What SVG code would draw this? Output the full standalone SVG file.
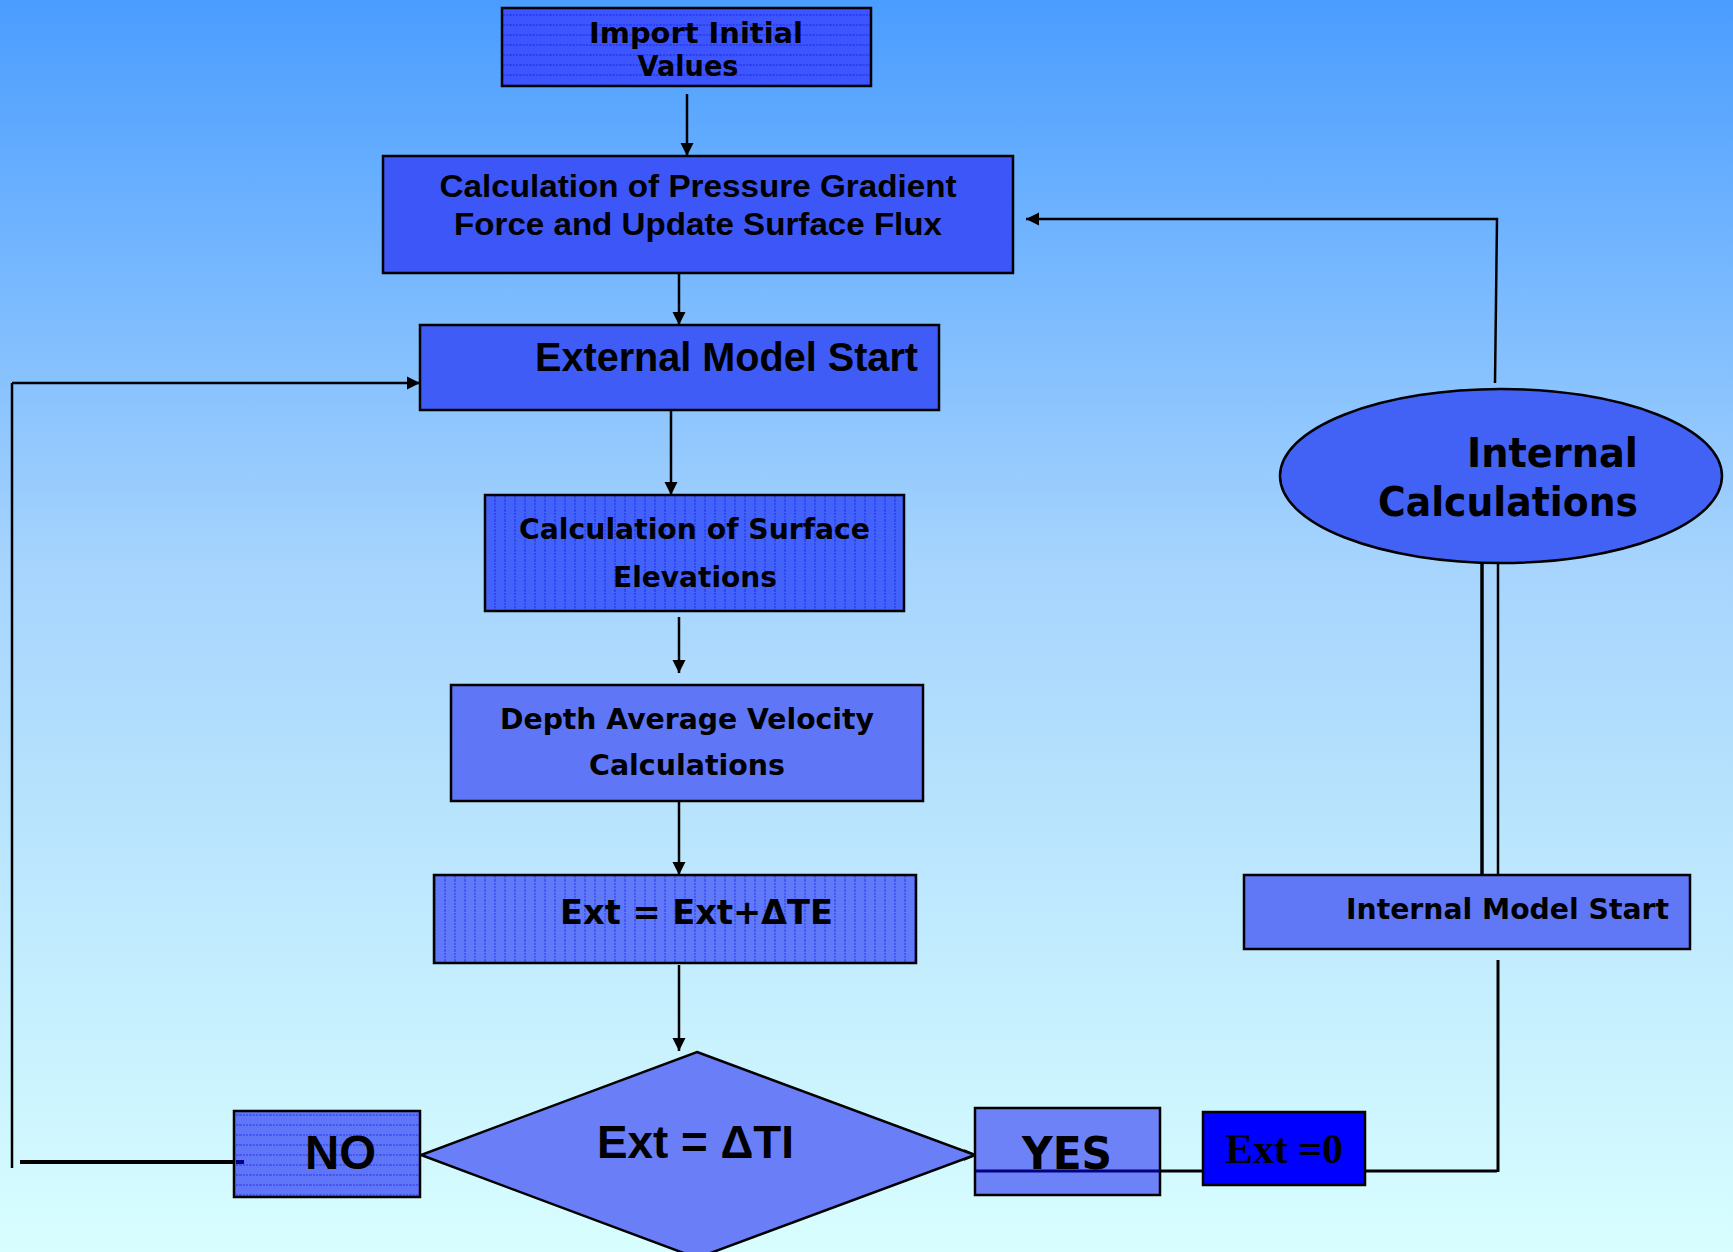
<svg xmlns="http://www.w3.org/2000/svg" width="1733" height="1252" viewBox="0 0 1733 1252">
<defs>
<linearGradient id="bg" x1="0" y1="0" x2="0" y2="1">
<stop offset="0" stop-color="#4a9dff"/>
<stop offset="0.45" stop-color="#a6d4fd"/>
<stop offset="1" stop-color="#d8feff"/>
</linearGradient>
<pattern id="hl" width="10" height="10" patternUnits="userSpaceOnUse">
<rect width="10" height="10" fill="#3d55ff"/>
<line x1="0" y1="5" x2="10" y2="5" stroke="#1f2be8" stroke-width="1" stroke-dasharray="2 1"/>
</pattern>
<pattern id="hl2" width="10" height="10" patternUnits="userSpaceOnUse">
<rect width="10" height="10" fill="#5f76f8"/>
<line x1="0" y1="5" x2="10" y2="5" stroke="#2a35f0" stroke-width="1" stroke-dasharray="2 1"/>
</pattern>
<pattern id="vl" width="10" height="10" patternUnits="userSpaceOnUse">
<rect width="10" height="10" fill="#4262fa"/>
<line x1="5" y1="0" x2="5" y2="10" stroke="#1f2bf0" stroke-width="1" stroke-dasharray="2 1"/>
</pattern>
<pattern id="vl2" width="10" height="10" patternUnits="userSpaceOnUse">
<rect width="10" height="10" fill="#5f79f8"/>
<line x1="5" y1="0" x2="5" y2="10" stroke="#2a35f0" stroke-width="1" stroke-dasharray="2 1"/>
</pattern>
<marker id="arr" viewBox="0 0 10 10" refX="10" refY="5" markerWidth="13" markerHeight="14" markerUnits="userSpaceOnUse" orient="auto">
<path d="M0,0 L10,5 L0,10 z" fill="#000"/>
</marker>
</defs>
<style>
.box{stroke:#000;stroke-width:2.5}
.c{stroke:#000;stroke-width:2.5;fill:none}
.v{font-family:"DejaVu Sans",Verdana,sans-serif;font-weight:bold;fill:#000}
.a{font-family:"Liberation Sans",Arial,sans-serif;font-weight:bold;fill:#000}
.t{font-family:"Liberation Serif","Times New Roman",serif;font-weight:bold;fill:#000}
</style>
<rect width="1733" height="1252" fill="url(#bg)"/>

<g id="connectors">
<line class="c" x1="687" y1="94" x2="687" y2="156" marker-end="url(#arr)"/>
<line class="c" x1="679" y1="273" x2="679" y2="325" marker-end="url(#arr)"/>
<line class="c" x1="671" y1="410" x2="671" y2="495" marker-end="url(#arr)"/>
<line class="c" x1="679" y1="617" x2="679" y2="673" marker-end="url(#arr)"/>
<line class="c" x1="679" y1="801" x2="679" y2="875" marker-end="url(#arr)"/>
<line class="c" x1="679" y1="965" x2="679" y2="1051" marker-end="url(#arr)"/>
<polyline class="c" points="1495,383 1497,219 1026,219" marker-end="url(#arr)"/>
<line x1="1482" y1="558" x2="1482" y2="875" style="stroke:#000;stroke-width:3.5"/>
<line x1="1498" y1="558" x2="1498" y2="875" style="stroke:#000;stroke-width:2.5"/>
<line x1="1364" y1="1171" x2="1497" y2="1171" style="stroke:#000;stroke-width:3"/>
<line x1="1498" y1="960" x2="1498" y2="1172" style="stroke:#000;stroke-width:3"/>
<line x1="1160" y1="1171" x2="1202" y2="1171" style="stroke:#000;stroke-width:3"/>
<polyline points="964,1150 976,1155 964,1160" style="stroke:#000;stroke-width:1.5;fill:none"/>
<line x1="20" y1="1162" x2="236" y2="1162" style="stroke:#000;stroke-width:4"/>
<line x1="12" y1="383" x2="12" y2="1168" style="stroke:#000;stroke-width:2.5"/>
<line class="c" x1="12" y1="383" x2="420" y2="383" marker-end="url(#arr)"/>
</g>

<g id="import">
<rect class="box" x="502" y="8" width="369" height="78" fill="url(#hl)"/>
<text class="v" x="696" y="43" font-size="28" text-anchor="middle" textLength="214" lengthAdjust="spacingAndGlyphs">Import Initial</text>
<text class="v" x="688" y="76" font-size="28" text-anchor="middle" textLength="101" lengthAdjust="spacingAndGlyphs">Values</text>
</g>

<g id="pressure">
<rect class="box" x="383" y="156" width="630" height="117" fill="#3c56f7"/>
<text class="a" x="698" y="197" font-size="32" text-anchor="middle" textLength="517" lengthAdjust="spacingAndGlyphs">Calculation of Pressure Gradient</text>
<text class="a" x="698" y="235" font-size="32" text-anchor="middle" textLength="488" lengthAdjust="spacingAndGlyphs">Force and Update Surface Flux</text>
</g>

<g id="external">
<rect class="box" x="420" y="325" width="519" height="85" fill="#3f5cf6"/>
<text class="a" x="535" y="371" font-size="40" textLength="383" lengthAdjust="spacingAndGlyphs">External Model Start</text>
</g>

<g id="surface">
<rect class="box" x="485" y="495" width="419" height="116" fill="url(#vl)"/>
<text class="v" x="519" y="539" font-size="29" textLength="351" lengthAdjust="spacingAndGlyphs">Calculation of Surface</text>
<text class="v" x="613" y="587" font-size="29" textLength="164" lengthAdjust="spacingAndGlyphs">Elevations</text>
</g>

<g id="depth">
<rect class="box" x="451" y="685" width="472" height="116" fill="#5f77f6"/>
<text class="v" x="500" y="729" font-size="29" textLength="374" lengthAdjust="spacingAndGlyphs">Depth Average Velocity</text>
<text class="v" x="589" y="775" font-size="29" textLength="196" lengthAdjust="spacingAndGlyphs">Calculations</text>
</g>

<g id="extupdate">
<rect class="box" x="434" y="875" width="482" height="88" fill="url(#vl2)"/>
<text class="v" x="560" y="924" font-size="33" textLength="273" lengthAdjust="spacingAndGlyphs">Ext = Ext+ΔTE</text>
</g>

<g id="decision">
<polygon class="box" points="697,1052 975,1155 697,1258 421,1155" fill="#6a7ff7"/>
<text class="a" x="597" y="1158" font-size="46" textLength="197" lengthAdjust="spacingAndGlyphs">Ext = ΔTI</text>
</g>

<g id="no">
<rect class="box" x="234" y="1111" width="186" height="86" fill="url(#hl2)"/>
<line x1="236" y1="1162" x2="244" y2="1162" style="stroke:#000080;stroke-width:4"/>
<text class="a" x="305" y="1169" font-size="48" textLength="71" lengthAdjust="spacingAndGlyphs">NO</text>
</g>

<g id="yes">
<rect class="box" x="975" y="1108" width="185" height="87" fill="#6e82f8"/>
<line x1="976" y1="1171" x2="1160" y2="1171" style="stroke:#000080;stroke-width:3"/>
<text class="v" x="1022" y="1169" font-size="44" textLength="90" lengthAdjust="spacingAndGlyphs">YES</text>
</g>

<g id="extzero">
<rect class="box" x="1203" y="1112" width="162" height="73" fill="#0000ff"/>
<text class="t" x="1225" y="1163" font-size="42" textLength="118" lengthAdjust="spacingAndGlyphs">Ext =0</text>
</g>

<g id="internalcalc">
<ellipse class="box" cx="1501" cy="476" rx="221" ry="87" fill="#4262f6"/>
<text class="v" x="1638" y="467" font-size="40" text-anchor="end" textLength="171" lengthAdjust="spacingAndGlyphs">Internal</text>
<text class="v" x="1638" y="516" font-size="40" text-anchor="end" textLength="260" lengthAdjust="spacingAndGlyphs">Calculations</text>
</g>

<g id="internalstart">
<rect class="box" x="1244" y="875" width="446" height="74" fill="#6178f6"/>
<text class="v" x="1346" y="919" font-size="28" textLength="323" lengthAdjust="spacingAndGlyphs">Internal Model Start</text>
</g>
</svg>
